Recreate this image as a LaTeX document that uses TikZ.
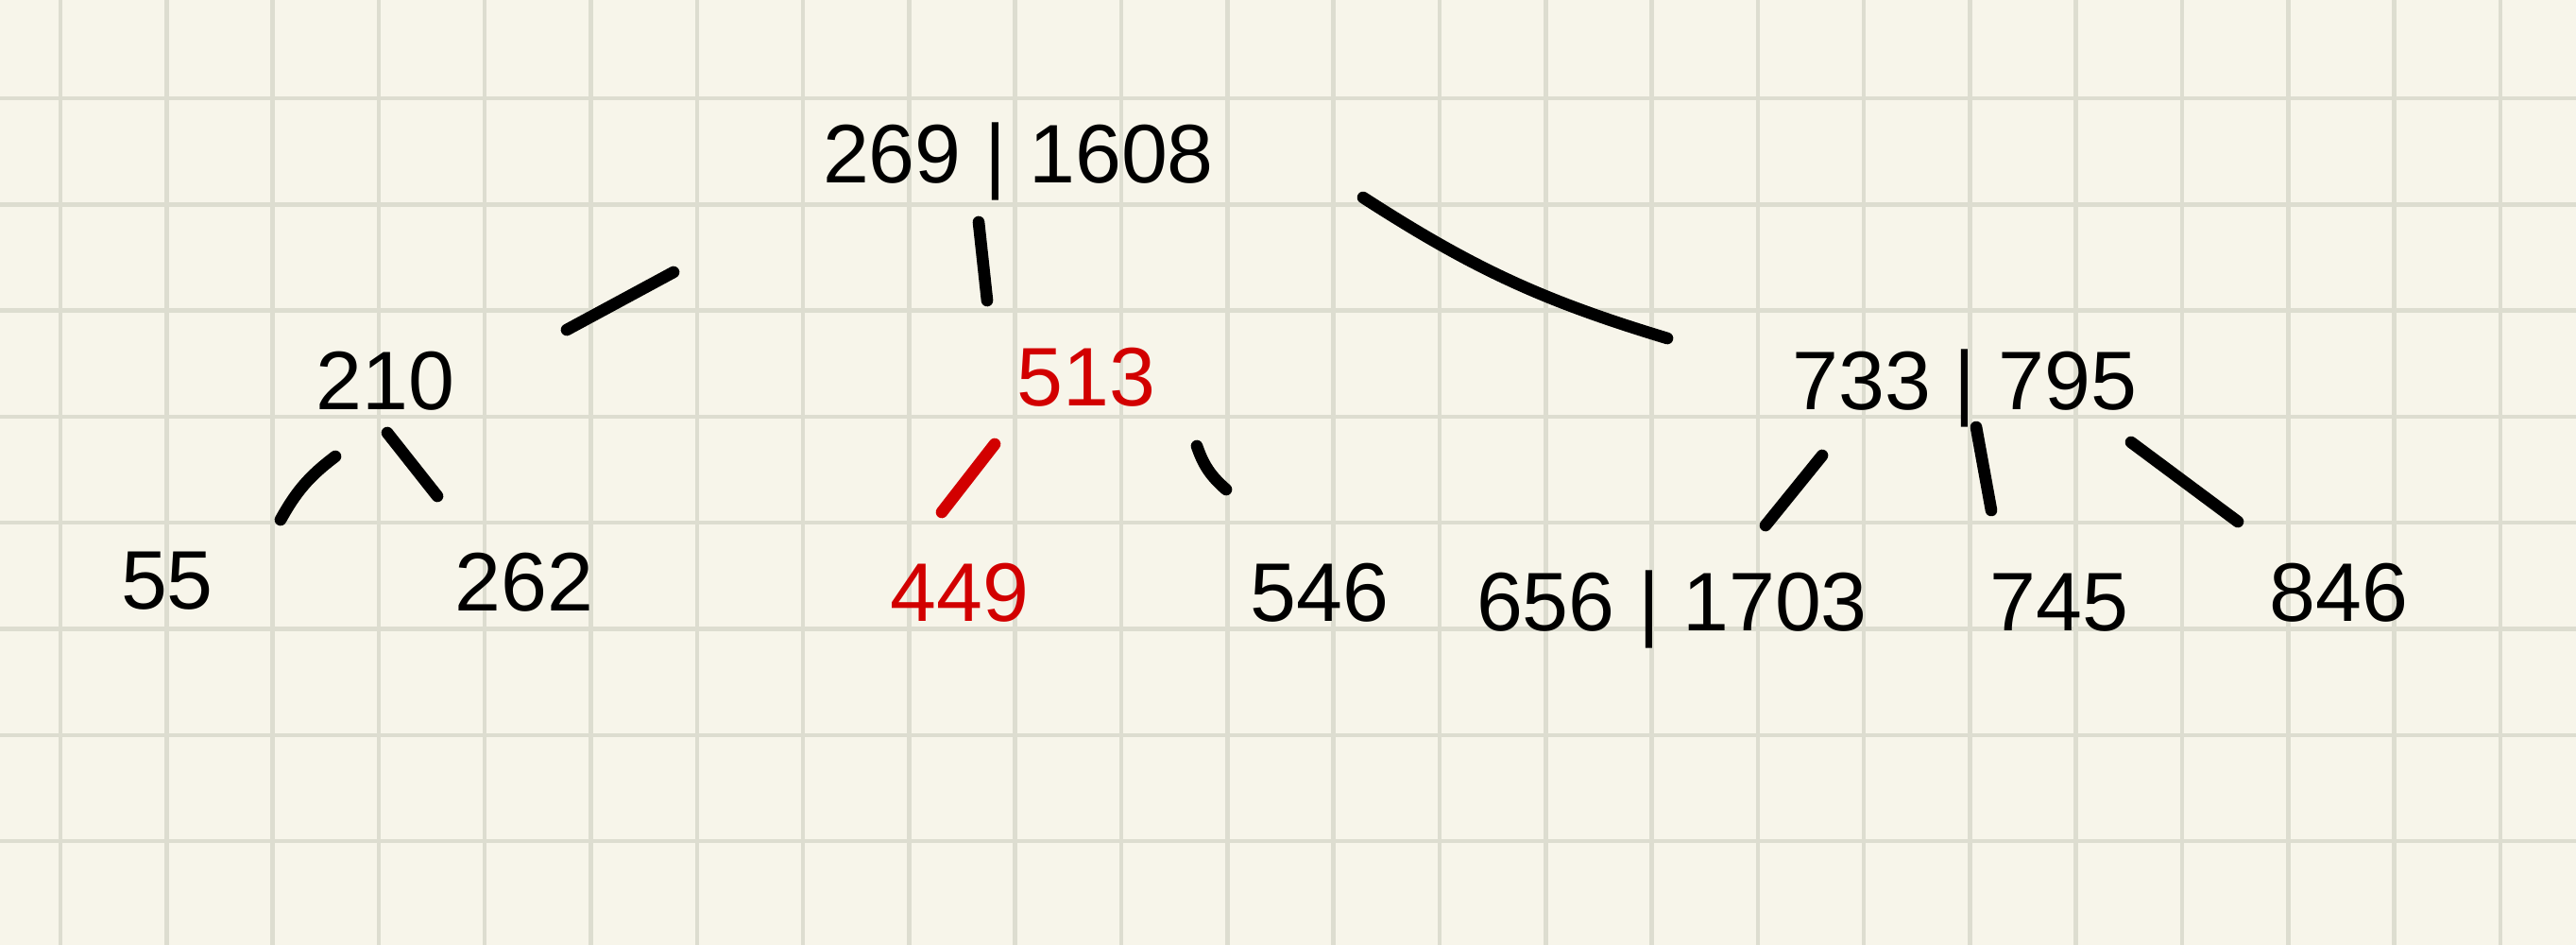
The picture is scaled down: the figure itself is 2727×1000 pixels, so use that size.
\documentclass[tikz,border=0pt]{standalone}
\usepackage{fontspec}
\setmainfont{Liberation Sans}

\definecolor{papel}{HTML}{F7F5EA}
\definecolor{cuadricula}{HTML}{DDDDD0}
\definecolor{rojo}{HTML}{D20000}

\begin{document}
\begin{tikzpicture}[
        x=0.01cm, y=-0.01cm,
        cifra/.style={
            inner sep=0pt,
            font=\fontsize{25}{30}\selectfont,
            text height=17.9pt,
            text depth=0pt
        },
        roja/.style={cifra, text=rojo},
        rama/.style={line width=3.6pt, line cap=round, draw=black},
        ramaroja/.style={rama, draw=rojo},
        linea/.style={line width=1.3pt, draw=cuadricula}
    ]
        \fill[papel] (0,0) rectangle (2727,1000);
        \useasboundingbox (0,0) rectangle (2727,1000);
        \foreach \i in {0,...,23}
            \draw[linea] ({64+112.3*\i},0) -- ({64+112.3*\i},1000);
        \foreach \j in {0,...,7}
            \draw[linea] (0,{104+112.3*\j}) -- (2727,{104+112.3*\j});

        \node[cifra] (raiz) at (1078,162) {269 | 1608};

        \node[cifra] (n210) at (408,402) {210};
        \node[roja] (n513) at (1150,398) {513};
        \node[cifra] (n733) at (2080,402) {733 | 795};

        \node[cifra] (n55) at (177,613) {55};
        \node[cifra] (n262) at (555,615) {262};
        \node[roja] (n449) at (1016,626) {449};
        \node[cifra] (n546) at (1397,626) {546};
        \node[cifra] (n656) at (1770,636) {656 | 1703};
        \node[cifra] (n745) at (2180,636) {745};
        \node[cifra] (n846) at (2476,626) {846};

        \draw[rama] ([shift={(-365,126)}]raiz.center) -- ([shift={(192,-53)}]n210.center);
        \draw[rama] ([shift={(-42,73)}]raiz.center) -- ([shift={(-105,-80)}]n513.center);
        \draw[rama] ([shift={(365,47)}]raiz.center) to[bend right=8] ([shift={(-315,-44)}]n733.center);

        \draw[rama] ([shift={(-53,81)}]n210.center) to[bend right=12] ([shift={(120,-63)}]n55.center);
        \draw[rama] ([shift={(2,56)}]n210.center) -- ([shift={(-92,-90)}]n262.center);

        \draw[ramaroja] ([shift={(-97,72)}]n513.center) -- ([shift={(-19,-84)}]n449.center);
        \draw[rama] ([shift={(117,74)}]n513.center) to[bend right=15] ([shift={(-99,-108)}]n546.center);

        \draw[rama] ([shift={(-151,80)}]n733.center) -- ([shift={(99,-80)}]n656.center);
        \draw[rama] ([shift={(12,50)}]n733.center) -- ([shift={(-72,-96)}]n745.center);
        \draw[rama] ([shift={(176,66)}]n733.center) -- ([shift={(-107,-74)}]n846.center);
    \end{tikzpicture}
\end{document}
